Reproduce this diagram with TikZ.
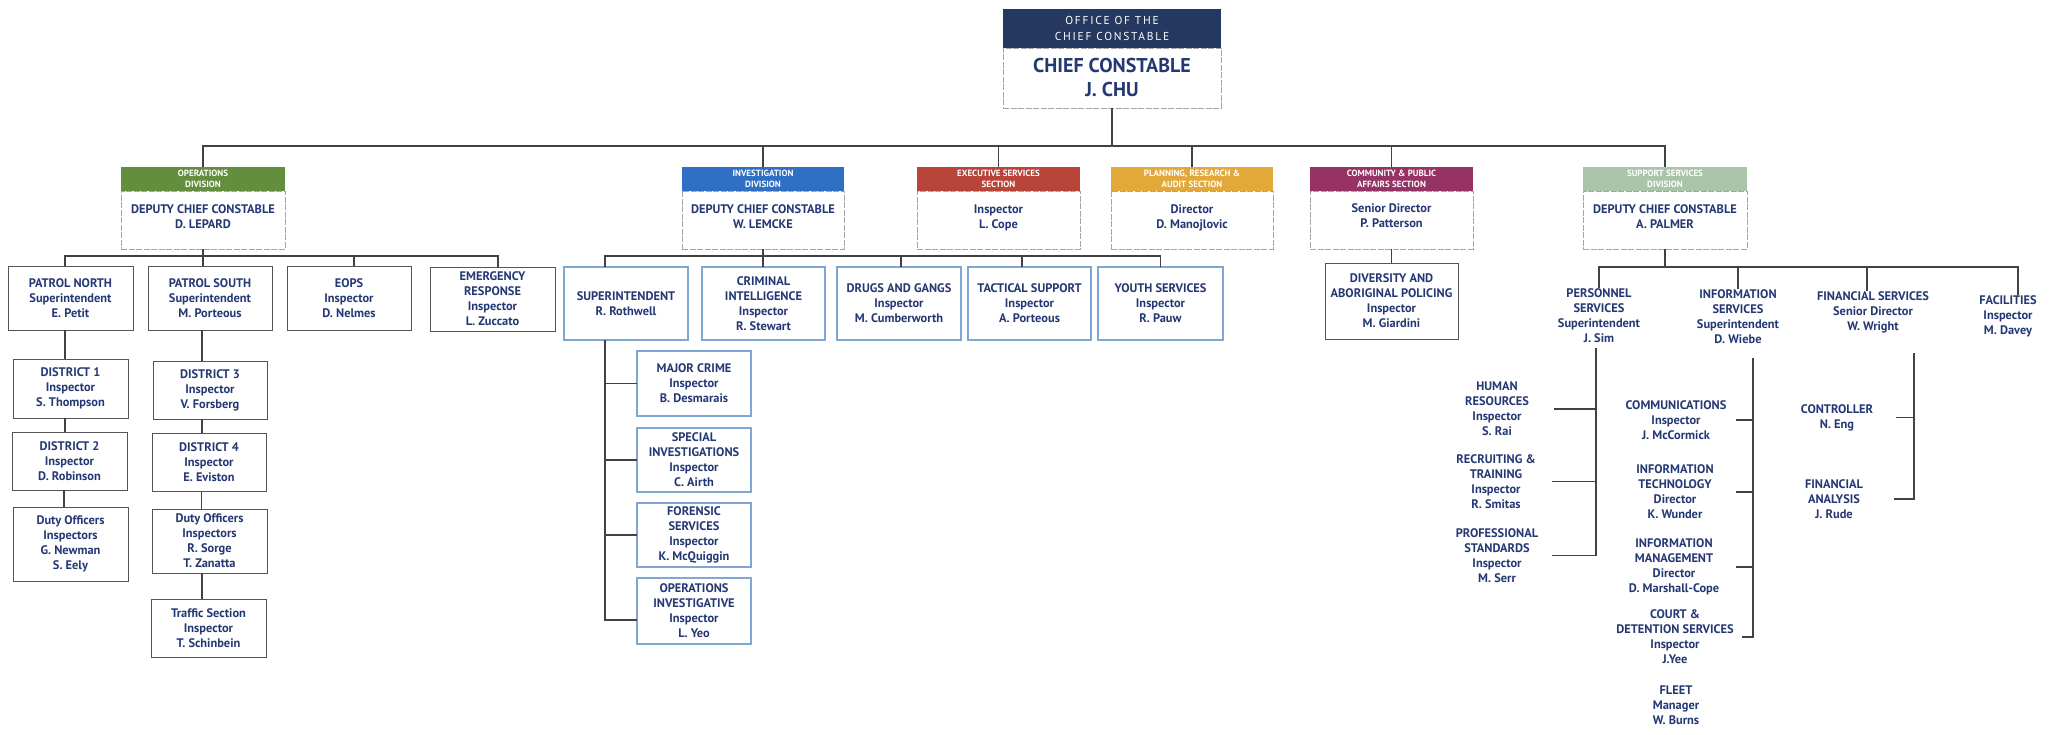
\documentclass[tikz,border=0pt]{standalone}
\usepackage{fontspec}
\setmainfont{PT Sans}
\newfontfamily\hdrfont{PT Sans}
\newfontfamily\hdrfontsp{PT Sans}[LetterSpace=15]
\definecolor{txt}{RGB}{36,56,116}
\definecolor{navy}{RGB}{36,56,96}
\definecolor{opsg}{RGB}{98,142,62}
\definecolor{invb}{RGB}{48,112,196}
\definecolor{execr}{RGB}{184,68,58}
\definecolor{plang}{RGB}{226,168,58}
\definecolor{commp}{RGB}{150,50,100}
\definecolor{suppg}{RGB}{170,196,170}
\definecolor{lnk}{RGB}{66,66,66}
\definecolor{bbox}{RGB}{85,85,85}
\definecolor{bluebox}{RGB}{128,166,212}
\begin{document}
\begin{tikzpicture}[x=1pt,y=-1pt,
  every node/.style={inner sep=0pt,outer sep=0pt},
  sz/.style 2 args={minimum width=#1pt,minimum height=#2pt},
  bodytxt/.style={font=\bfseries\fontsize{12.4}{15}\selectfont,text=txt,align=center},
  gbox/.style={bodytxt,draw=bbox,line width=0.9pt},
  bbx/.style={bodytxt,draw=bluebox,line width=1.1pt},
  divbody/.style={draw=gray!70,line width=0.9pt,dash pattern=on 6pt off 1.5pt},
  divhead/.style={fill=#1,text=white,font=\hdrfont\bfseries\fontsize{9}{11}\selectfont,align=center},
  plain/.style={bodytxt},
  link/.style={draw=lnk,line width=1.2pt}
]
\useasboundingbox[fill=white] (0,0) rectangle (2049,735);

% ---- Chief
\node[divhead=navy,font=\hdrfontsp\fontsize{11.5}{16}\selectfont,sz={218}{39}] (chiefH) at (1112,28.5) {OFFICE OF THE\\CHIEF CONSTABLE};
\node[divbody,sz={218}{60}] (chief) at (1112,78) {};
\node[bodytxt,font=\bfseries\fontsize{20}{24}\selectfont] (chiefT) at (chief.center) {CHIEF CONSTABLE\\J. CHU};

% ---- Divisions
\node[divhead=opsg,sz={164}{24}] (opsH) at (203,179) {OPERATIONS\\DIVISION};
\node[divbody,sz={164}{58}] (ops) at (203,220) {};
\node[bodytxt] (opsT) at (203,216.5) {DEPUTY CHIEF CONSTABLE\\D. LEPARD};
\node[divhead=invb,sz={162}{24}] (invH) at (763,179) {INVESTIGATION\\DIVISION};
\node[divbody,sz={162}{58}] (inv) at (763,220) {};
\node[bodytxt] (invT) at (763,216.5) {DEPUTY CHIEF CONSTABLE\\W. LEMCKE};
\node[divhead=execr,sz={163}{24}] (execH) at (998.5,179) {EXECUTIVE SERVICES\\SECTION};
\node[divbody,sz={163}{58}] (exec) at (998.5,220) {};
\node[bodytxt] (execT) at (998.5,218) {Inspector\\L. Cope};
\node[divhead=plang,sz={162}{24}] (planH) at (1192,179) {PLANNING, RESEARCH \&\\AUDIT SECTION};
\node[divbody,sz={162}{58}] (plan) at (1192,220) {};
\node[bodytxt] (planT) at (1192,218) {Director\\D. Manojlovic};
\node[divhead=commp,sz={163}{24}] (commH) at (1391.5,179) {COMMUNITY \& PUBLIC\\AFFAIRS SECTION};
\node[divbody,sz={163}{58}] (comm) at (1391.5,220) {};
\node[bodytxt] (commT) at (1391.5,216) {Senior Director\\P. Patterson};
\node[divhead=suppg,sz={164}{24}] (suppH) at (1665,179) {SUPPORT SERVICES\\DIVISION};
\node[divbody,sz={164}{58}] (supp) at (1665,220) {};
\node[bodytxt] (suppT) at (1665,216.5) {DEPUTY CHIEF CONSTABLE\\A. PALMER};

% ---- Operations subtree
\node[gbox,sz={125}{64}] (pn) at (70.5,298) {PATROL NORTH\\Superintendent\\E. Petit};
\node[gbox,sz={124}{64}] (ps) at (210,298) {PATROL SOUTH\\Superintendent\\M. Porteous};
\node[gbox,sz={124}{64}] (eops) at (349,298) {EOPS\\Inspector\\D. Nelmes};
\node[gbox,sz={125}{64}] (er) at (492.5,299) {EMERGENCY\\RESPONSE\\Inspector\\L. Zuccato};
\node[gbox,sz={115}{59}] (d1) at (70.5,388.5) {DISTRICT 1\\Inspector\\S. Thompson};
\node[gbox,sz={115}{58}] (d2) at (69.5,461) {DISTRICT 2\\Inspector\\D. Robinson};
\node[gbox,sz={115}{74}] (dutyl) at (70.5,544) {Duty Officers\\Inspectors\\G. Newman\\S. Eely};
\node[gbox,sz={114}{58}] (d3) at (210,390) {DISTRICT 3\\Inspector\\V. Forsberg};
\node[gbox,sz={114}{58}] (d4) at (209,462) {DISTRICT 4\\Inspector\\E. Eviston};
\node[gbox,sz={115}{64}] (dutyr) at (209.5,541) {Duty Officers\\Inspectors\\R. Sorge\\T. Zanatta};
\node[gbox,sz={115}{58}] (traf) at (208.5,628) {Traffic Section\\Inspector\\T. Schinbein};

% ---- Investigation subtree
\node[bbx,sz={124}{73}] (roth) at (626,303.5) {SUPERINTENDENT\\R. Rothwell};
\node[bbx,sz={123}{73}] (ci) at (763.5,303.5) {CRIMINAL\\INTELLIGENCE\\Inspector\\R. Stewart};
\node[bbx,sz={124}{73}] (dg) at (899,303.5) {DRUGS AND GANGS\\Inspector\\M. Cumberworth};
\node[bbx,sz={123}{73}] (ts) at (1029.5,303.5) {TACTICAL SUPPORT\\Inspector\\A. Porteous};
\node[bbx,sz={125}{73}] (ys) at (1160.5,303.5) {YOUTH SERVICES\\Inspector\\R. Pauw};
\node[bbx,sz={114}{65}] (mc) at (694,383.5) {MAJOR CRIME\\Inspector\\B. Desmarais};
\node[bbx,sz={114}{64}] (si) at (694,460) {SPECIAL\\INVESTIGATIONS\\Inspector\\C. Airth};
\node[bbx,sz={114}{64}] (fs) at (694,535) {FORENSIC\\SERVICES\\Inspector\\K. McQuiggin};
\node[bbx,sz={114}{66}] (oi) at (694,611) {OPERATIONS\\INVESTIGATIVE\\Inspector\\L. Yeo};

% ---- Community subtree
\node[gbox,sz={133}{76}] (div) at (1391.5,301) {DIVERSITY AND\\ABORIGINAL POLICING\\Inspector\\M. Giardini};

% ---- Support subtree (unboxed)
\node[plain] (pers) at (1599,315.5) {PERSONNEL\\SERVICES\\Superintendent\\J. Sim};
\node[plain] (infos) at (1738,316.5) {INFORMATION\\SERVICES\\Superintendent\\D. Wiebe};
\node[plain] (fins) at (1873,312) {FINANCIAL SERVICES\\Senior Director\\W. Wright};
\node[plain] (fac) at (2008,316) {FACILITIES\\Inspector\\M. Davey};
\node[plain,minimum width=114pt] (hr) at (1497,409) {HUMAN\\RESOURCES\\Inspector\\S. Rai};
\node[plain,minimum width=112pt] (rt) at (1496,481.5) {RECRUITING \&\\TRAINING\\Inspector\\R. Smitas};
\node[plain,minimum width=110pt] (pstd) at (1497,555.5) {PROFESSIONAL\\STANDARDS\\Inspector\\M. Serr};
\node[plain,minimum width=120pt] (comms) at (1676,420) {COMMUNICATIONS\\Inspector\\J. McCormick};
\node[plain,minimum width=122pt] (it) at (1675,492) {INFORMATION\\TECHNOLOGY\\Director\\K. Wunder};
\node[plain,minimum width=124pt] (im) at (1674,567) {INFORMATION\\MANAGEMENT\\Director\\D. Marshall-Cope};
\node[plain,minimum width=134pt] (court) at (1675,637) {COURT \&\\DETENTION SERVICES\\Inspector\\J.Yee};
\node[plain] (fleet) at (1676,705) {FLEET\\Manager\\W. Burns};
\node[plain,minimum width=118pt] (ctrl) at (1837,417.5) {CONTROLLER\\N. Eng};
\node[plain,minimum width=120pt] (fa) at (1834,499) {FINANCIAL\\ANALYSIS\\J. Rude};

% ---- Connectors: top level
\coordinate (mbus) at (1112,146);
\draw[link] (chief.south) -- (mbus);
\draw[link] (opsH.north) |- (suppH.north |- mbus) -- (suppH.north);
\foreach \n in {invH,execH,planH,commH} \draw[link] (\n.north) -- (\n.north |- mbus);

% Operations
\coordinate (obus) at (203,256);
\draw[link] (ops.south) -- (ops.south |- ps.north);
\draw[link] ([xshift=-5.5pt]pn.north) |- ([xshift=5.5pt]er.north |- obus) -- ([xshift=5.5pt]er.north);
\draw[link] ([xshift=5pt]eops.north) -- ([xshift=5pt]eops.north |- obus);
\draw[link] ([xshift=-5.5pt]pn.south) -- ([xshift=-5.5pt]pn.south |- d1.north);
\draw[link] ([xshift=-5.5pt]d1.south) -- ([xshift=-5.5pt]d1.south |- d2.north);
\draw[link] ([xshift=-5.5pt]d2.south) -- ([xshift=-5.5pt]d2.south |- dutyl.north);
\draw[link] ([xshift=-8pt]ps.south) -- ([xshift=-8pt]ps.south |- d3.north);
\draw[link] ([xshift=-8pt]d3.south) -- ([xshift=-8pt]d3.south |- d4.north);
\draw[link] ([xshift=-7.5pt]d4.south) -- ([xshift=-7.5pt]d4.south |- dutyr.north);
\draw[link] ([xshift=-7.5pt]dutyr.south) -- ([xshift=-7.5pt]dutyr.south |- traf.north);

% Investigation
\coordinate (ibus) at (763,256);
\draw[link] (inv.south) -- (inv.south |- ci.north);
\draw[link] ([xshift=-21pt]roth.north) |- (ys.north |- ibus) -- (ys.north);
\draw[link] ([xshift=2pt]dg.north) -- ([xshift=2pt]dg.north |- ibus);
\draw[link] ([xshift=-7.5pt]ts.north) -- ([xshift=-7.5pt]ts.north |- ibus);
\coordinate (rv) at ([xshift=-21pt]roth.south);
\draw[link] (rv) |- ([yshift=-9pt]oi.west);
\foreach \n in {mc,si,fs} \draw[link] (\n.west) -- (\n.west -| rv);

% Community
\draw[link] (comm.south) -- (div.north);

% Support
\coordinate (sbus) at (1669,267);
\draw[link] (supp.south) -- (supp.south |- sbus);
\draw[link] (pers.north) |- ([xshift=10pt]fac.north |- sbus) -- ([xshift=10pt]fac.north);
\draw[link] (infos.north) -- (infos.north |- sbus);
\draw[link] ([xshift=-6pt]fins.north) -- ([xshift=-6pt]fins.north |- sbus);
\coordinate (persv) at (1596,348);
\draw[link] (persv) |- (pstd.east);
\draw[link] (hr.east) -- (hr.east -| persv);
\draw[link] (rt.east) -- (rt.east -| persv);
\coordinate (infov) at (1753,358);
\draw[link] (infov) |- (court.east);
\foreach \n in {comms,it,im} \draw[link] (\n.east) -- (\n.east -| infov);
\coordinate (finv) at (1914,353);
\draw[link] (finv) |- (fa.east);
\draw[link] (ctrl.east) -- (ctrl.east -| finv);
\end{tikzpicture}
\end{document}
